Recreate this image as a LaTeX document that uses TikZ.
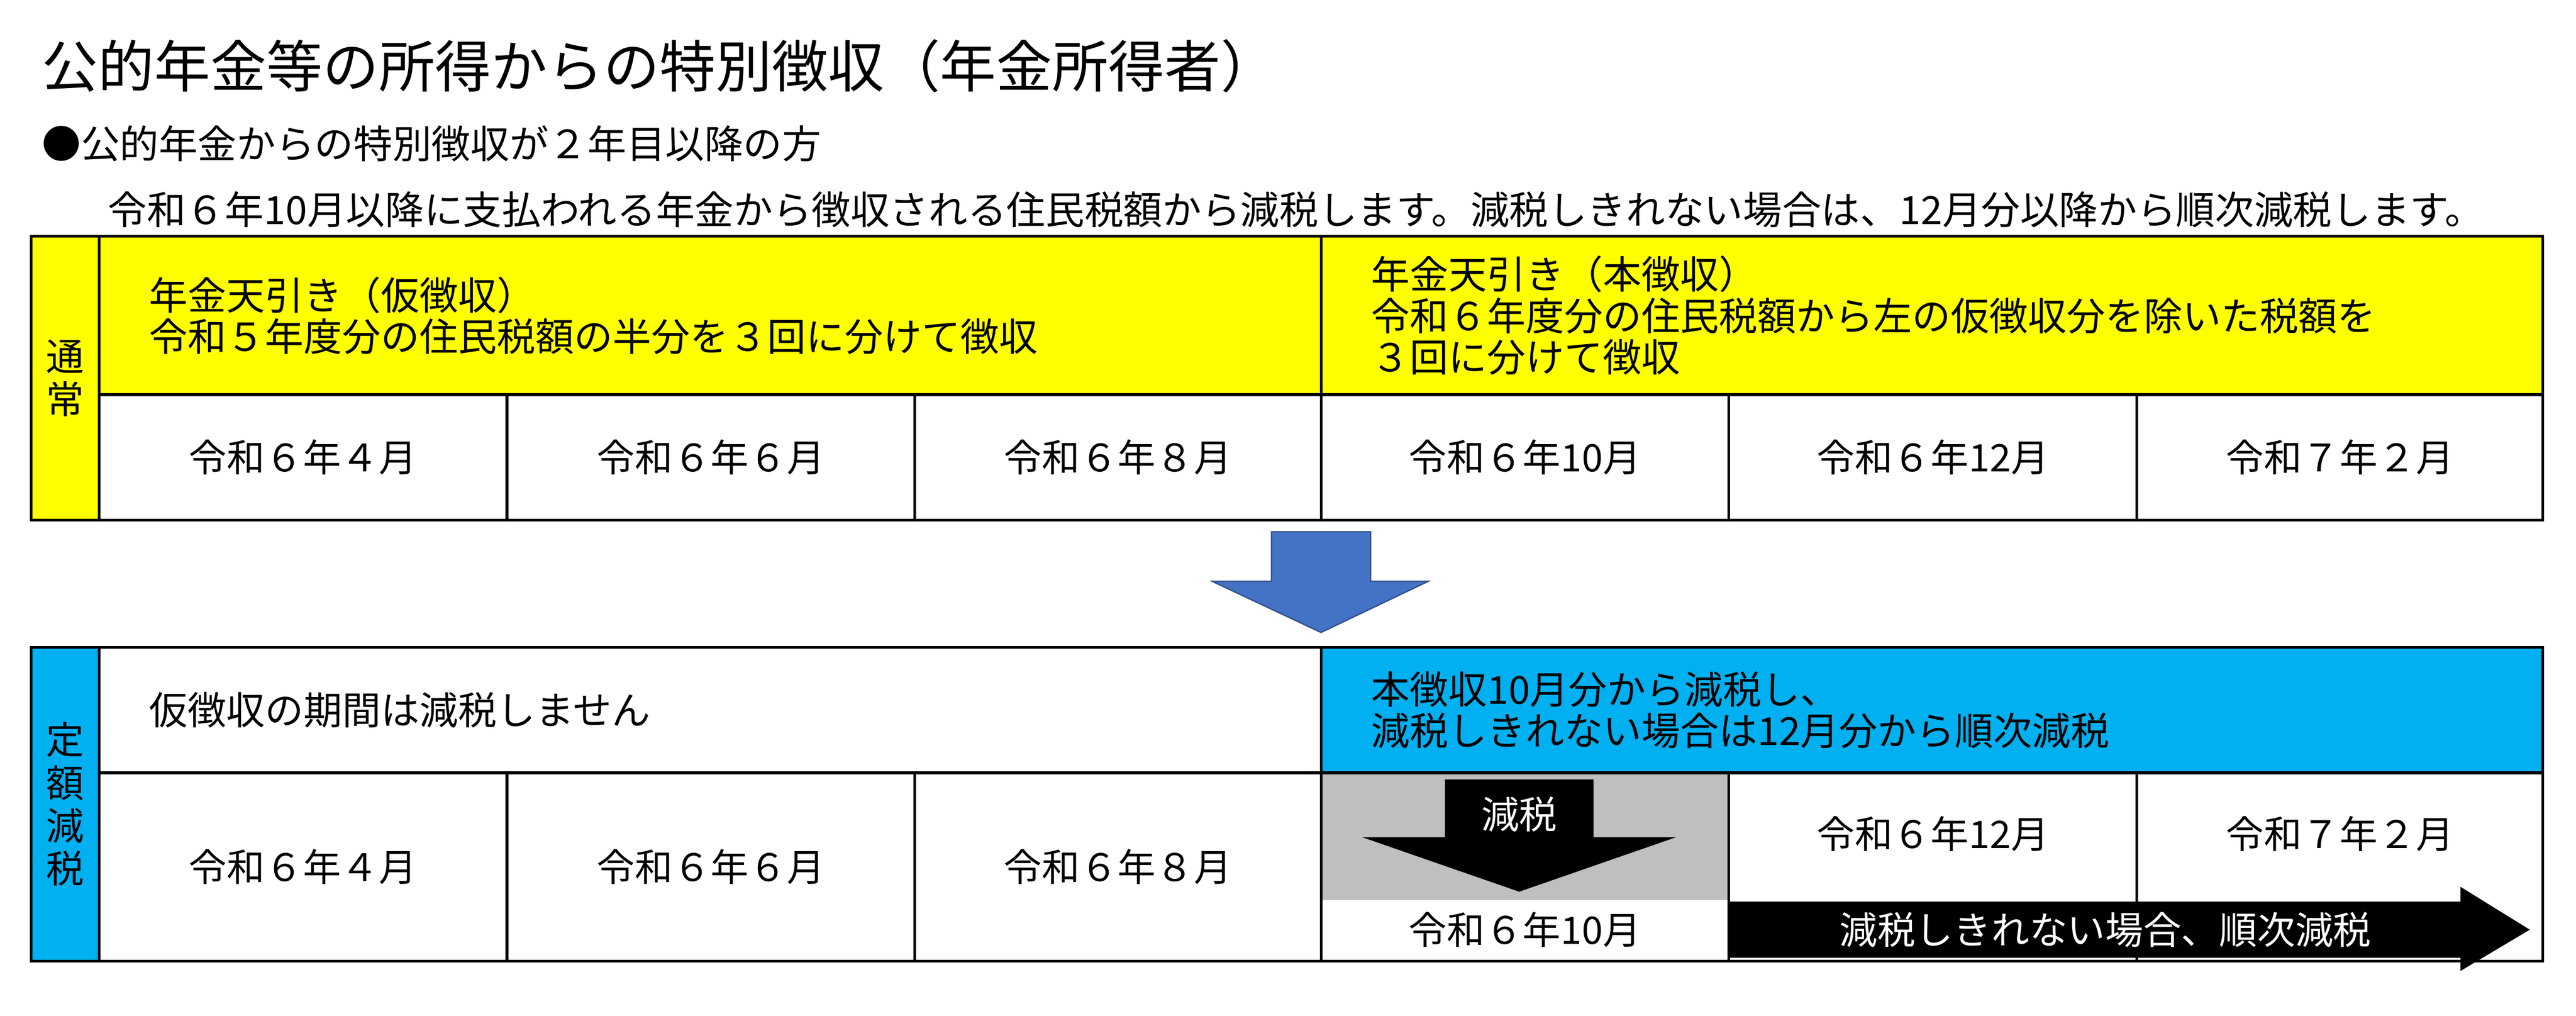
\documentclass[tikz,border=0pt]{standalone}
\usepackage{fontspec}
\setmainfont{Noto Sans CJK JP}
\usetikzlibrary{positioning,arrows,shapes.arrows}
\definecolor{tenyellow}{HTML}{FFFF00}
\definecolor{tencyan}{HTML}{00B0F0}
\definecolor{tenblue}{HTML}{4472C4}
\definecolor{tengray}{HTML}{BFBFBF}
\begin{document}
\begin{tikzpicture}[x=0.5pt,y=-0.5pt,
    cell/.style={draw=black,line width=0.8pt},
    txt/.style={font=\fontsize{11.5}{13}\selectfont,inner sep=0pt},
    lbl/.style={font=\fontsize{11.7}{12.5}\selectfont,align=left,anchor=west,inner sep=0pt}]
        \useasboundingbox (0,0) rectangle (1560,615);
        \node[anchor=west,inner sep=0pt,font=\fontsize{17}{19}\selectfont] (title) at (25,40) {公的年金等の所得からの特別徴収（年金所得者）};
        \node[anchor=west,inner sep=0pt,font=\fontsize{11.8}{13}\selectfont] (sub) at (25,87) {●公的年金からの特別徴収が２年目以降の方};
        \node[anchor=west,inner sep=0pt,font=\fontsize{11.8}{13}\selectfont] (note) at (65,127) {令和６年10月以降に支払われる年金から徴収される住民税額から減税します。減税しきれない場合は、12月分以降から順次減税します。};

        % upper table
        \fill[tenyellow] (19,143) rectangle (1540,239);
        \fill[tenyellow] (19,239) rectangle (60,315);
        \draw[cell] (19,143) rectangle (1540,315);
        \draw[cell] (60,143) -- (60,315) (60,239) -- (1540,239) (800,143) -- (800,239);
        \foreach \x in {307,554,800,1047,1294} \draw[cell] (\x,239) -- (\x,315);
        \node[txt,align=center] (tsu) at (39.5,229) {通\\常};
        \node[lbl] (kari) at (90,191) {年金天引き（仮徴収）\\令和５年度分の住民税額の半分を３回に分けて徴収};
        \node[lbl] (hon) at (830,191) {年金天引き（本徴収）\\令和６年度分の住民税額から左の仮徴収分を除いた税額を\\３回に分けて徴収};
        \foreach \x/\t [count=\i] in {183.5/令和６年４月,430.5/令和６年６月,677/令和６年８月,923.5/令和６年10月,1170.5/令和６年12月,1417/令和７年２月}
          \node[txt] (up\i) at (\x,277) {\t};

        % arrow between tables
        \fill[tenblue,draw=tenblue!70!black] (770,322) -- (830,322) -- (830,352) -- (865,352) -- (800,383) -- (734,352) -- (770,352) -- cycle;

        % lower table
        \fill[tencyan] (19,392) rectangle (60,582);
        \fill[tencyan] (800,392) rectangle (1540,468);
        \fill[tengray] (800,468) rectangle (1047,545);
        \draw[cell] (19,392) rectangle (1540,582);
        \draw[cell] (60,392) -- (60,582) (60,468) -- (1540,468) (800,392) -- (800,582);
        \foreach \x in {307,554,1047,1294} \draw[cell] (\x,468) -- (\x,582);
        \node[txt,align=center] (tei) at (39.5,487) {定\\額\\減\\税};
        \node[lbl] (nashi) at (90,430) {仮徴収の期間は減税しません};
        \node[lbl] (gen) at (830,430) {本徴収10月分から減税し、\\減税しきれない場合は12月分から順次減税};
        \foreach \x/\t [count=\i] in {183.5/令和６年４月,430.5/令和６年６月,677/令和６年８月}
          \node[txt] (lo\i) at (\x,525) {\t};
        \node[txt] (lo4) at (923.5,563) {令和６年10月};
        \node[txt] (lo5) at (1170.5,505) {令和６年12月};
        \node[txt] (lo6) at (1417,505) {令和７年２月};

        % black arrows
        \fill[black] (875,472) -- (965,472) -- (965,507) -- (1015,507) -- (920,540) -- (825,507) -- (875,507) -- cycle;
        \node[txt,text=white] (genzei) at (920,493) {減税};
        \fill[black] (1047,546) -- (1490,546) -- (1490,537) -- (1532,563) -- (1490,588) -- (1490,580) -- (1047,580) -- cycle;
        \node[txt,text=white] (jun) at (1275,563) {減税しきれない場合、順次減税};
\end{tikzpicture}
\end{document}
